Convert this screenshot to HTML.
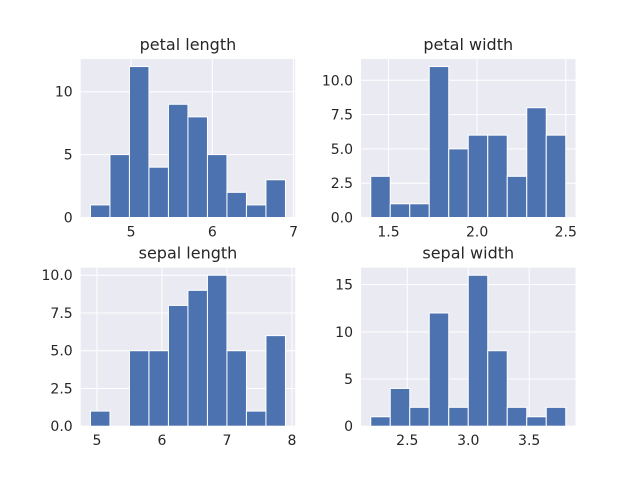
<!DOCTYPE html>
<html><head><meta charset="utf-8"><style>
body{margin:0;background:#fff;}
svg{display:block;font-family:"DejaVu Sans","Liberation Sans",sans-serif;}
</style></head><body>
<svg id="fig" width="640" height="480" xmlns="http://www.w3.org/2000/svg"></svg>
<script>
const titles=["petal length","petal width","sepal length","sepal width"];
const binMins=[4.5,1.4,4.9,2.2];
const binMaxs=[6.9,2.5,7.9,3.8];
const countsPetalLength=[1,5,12,4,9,8,5,2,1,3];
const countsPetalWidth=[3,1,1,11,5,6,6,3,8,6];
const countsSepalLength=[1,0,5,5,8,9,10,5,1,6];
const countsSepalWidth=[1,4,2,12,2,16,8,2,1,2];
const xTicks=[[5,6,7],[1.5,2.0,2.5],[5,6,7,8],[2.5,3.0,3.5]];
const xTickLabels=[["5","6","7"],["1.5","2.0","2.5"],["5","6","7","8"],["2.5","3.0","3.5"]];
const yTicks=[[0,5,10],[0,2.5,5,7.5,10],[0,2.5,5,7.5,10],[0,5,10,15]];
const yTickLabels=[["0","5","10"],["0.0","2.5","5.0","7.5","10.0"],["0.0","2.5","5.0","7.5","10.0"],["0","5","10","15"]];
const allCounts=[countsPetalLength,countsPetalWidth,countsSepalLength,countsSepalWidth];
const NS="http://www.w3.org/2000/svg";
const svg=document.getElementById('fig');
function mk(t,a,p){const e=document.createElementNS(NS,t);for(const k in a)e.setAttribute(k,a[k]);(p||svg).appendChild(e);return e;}
const W=214.5,H=158.5,lefts=[80.7,361],tops=[59,267.7];
for(let i=0;i<4;i++){
  const L=lefts[i%2],T=tops[Math.floor(i/2)];
  const g=mk('g',{});
  
  
  const c=allCounts[i],lo=binMins[i],hi=binMaxs[i],n=c.length,bw=(hi-lo)/n;
  const pad=(hi-lo)*0.05,x0=lo-pad,x1=hi+pad,ymax=Math.max(...c)*1.05;
  const X=v=>L+(v-x0)/(x1-x0)*W, Y=v=>T+H-v/ymax*H;
  const bg=mk('rect',{x:L,y:T,width:W,height:H,fill:'#eaeaf2'},g);
  
  xTicks[i].forEach((v,j)=>{
    mk('line',{x1:X(v),x2:X(v),y1:T,y2:T+H,stroke:'#fff','stroke-width':1},g);
    const t=mk('text',{x:X(v),y:T+H+19,'text-anchor':'middle','font-size':14,fill:'#262626'},g);
    t.textContent=xTickLabels[i][j];
    
  });
  yTicks[i].forEach((v,j)=>{
    mk('line',{x1:L,x2:L+W,y1:Y(v),y2:Y(v),stroke:'#fff','stroke-width':1},g);
    const t=mk('text',{x:L-8,y:Y(v)+5,'text-anchor':'end','font-size':14,fill:'#262626'},g);
    t.textContent=yTickLabels[i][j];
    
  });
  c.forEach((v,j)=>{
    if(v<=0)return;
    const a=lo+j*bw,b=a+bw;
    const r=mk('rect',{x:X(a),y:Y(v),width:X(b)-X(a),height:Y(0)-Y(v),fill:'#4c72b0',stroke:'#fff','stroke-width':1},g);
    
  });
  const tt=mk('text',{x:L+W/2,y:T-9,'text-anchor':'middle','font-size':16,fill:'#262626'},g);
  tt.textContent=titles[i];
  
}
</script>
</body></html>
